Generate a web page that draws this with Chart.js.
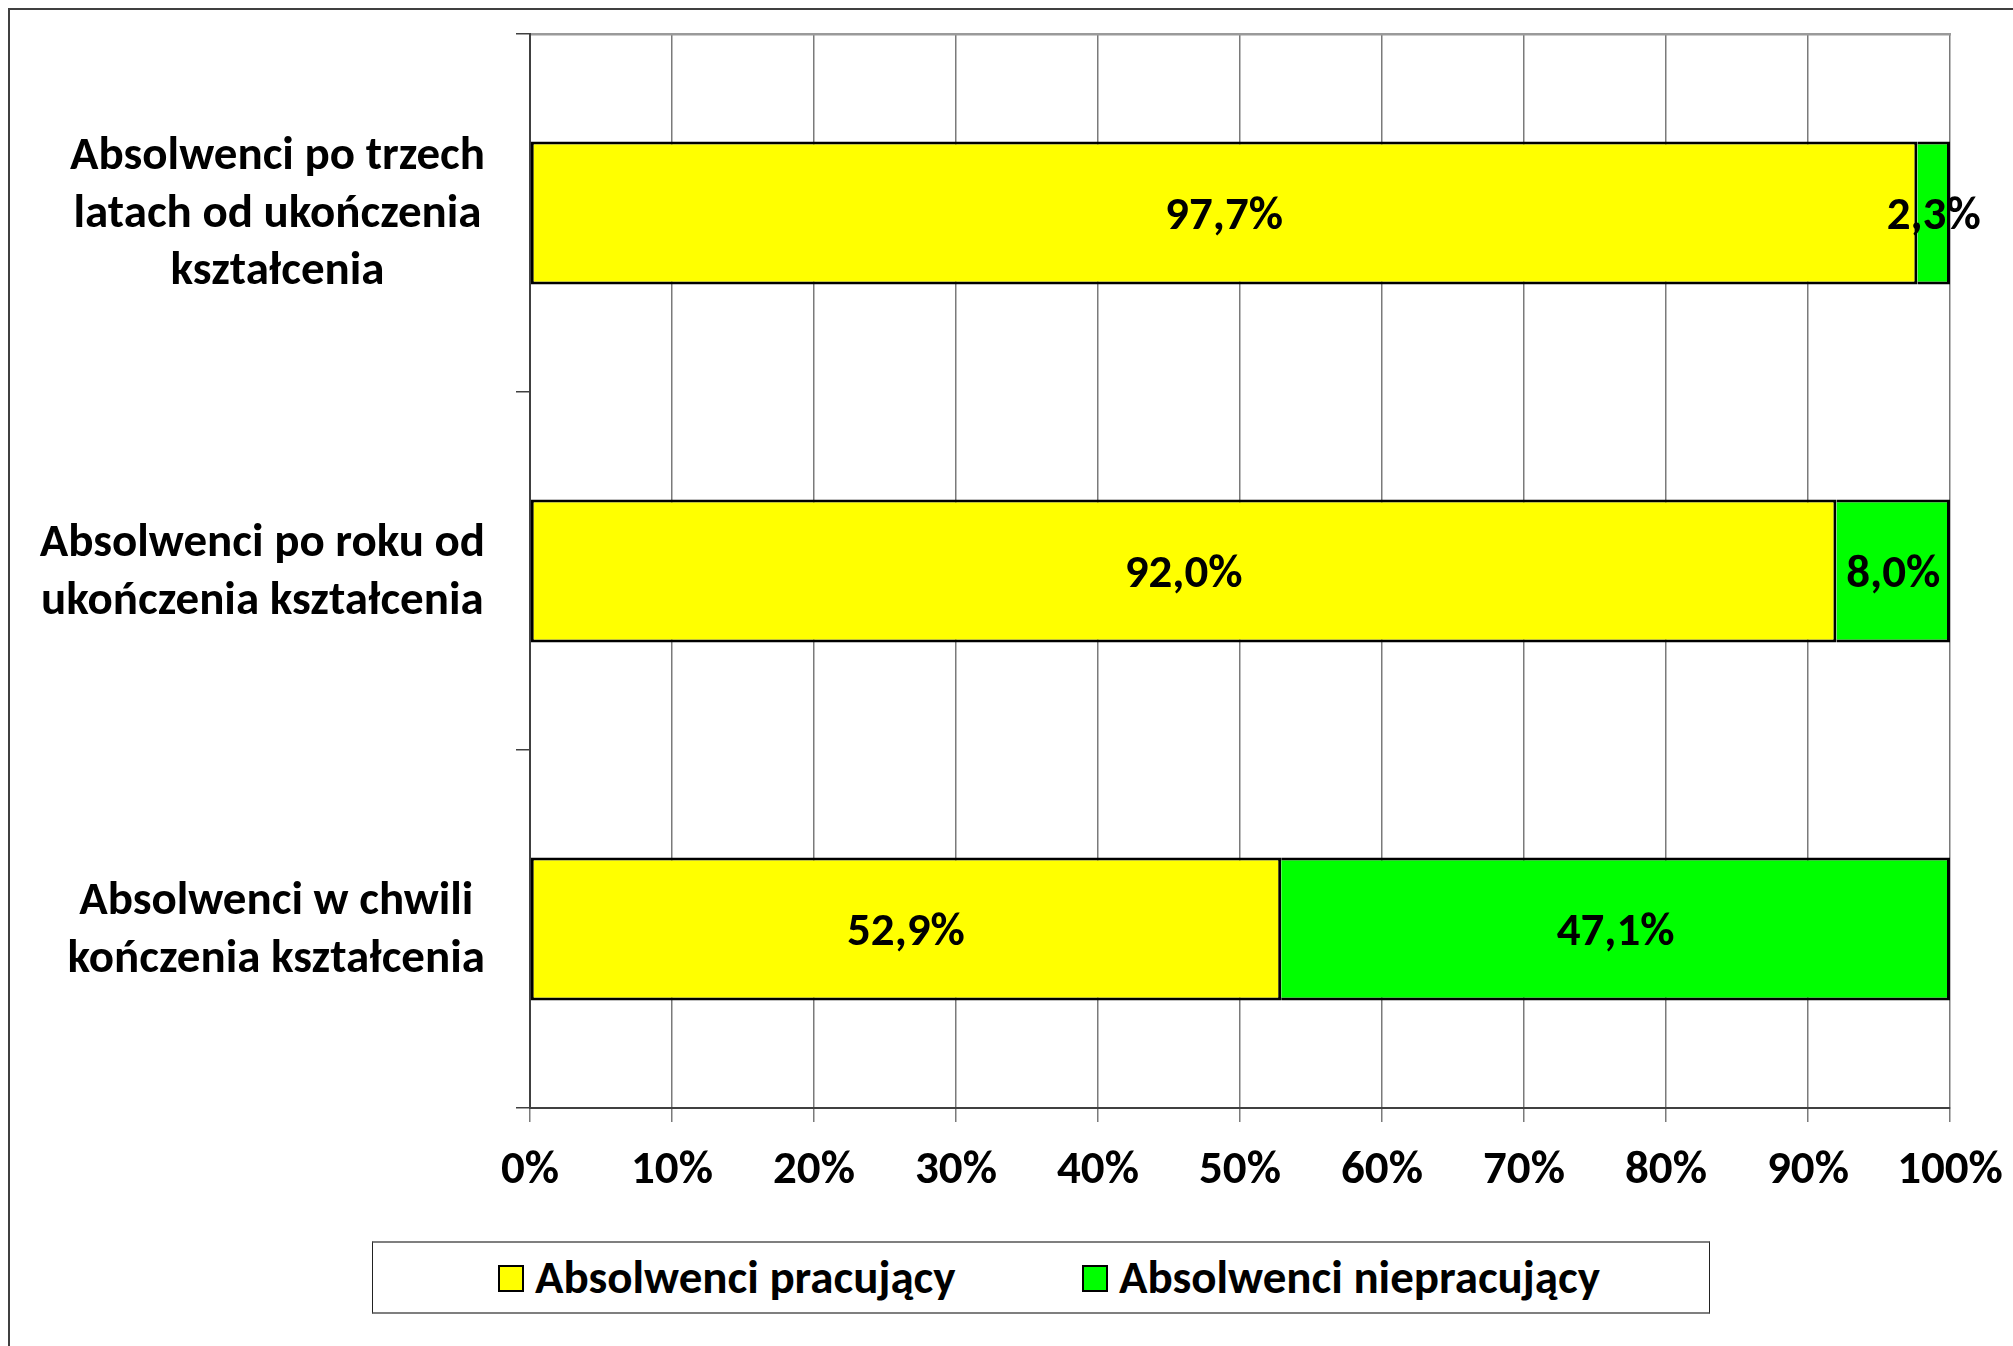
<!DOCTYPE html>
<html>
<head>
<meta charset="utf-8">
<script src="https://cdn.jsdelivr.net/npm/chart.js@4.4.1/dist/chart.umd.min.js"></script>
<style>
  html, body { margin: 0; padding: 0; background: #fff; }
  #wrap { position: relative; width: 2013px; height: 1346px; overflow: hidden; }
  #frame { position: absolute; left: 8px; top: 8px; width: 2100px; height: 1400px; border: 2px solid #404040; box-sizing: border-box; }
  canvas { position: absolute; left: 0; top: 0; }
  #legend { position: absolute; left: 372px; top: 1241px; width: 1338px; height: 73px; box-sizing: border-box;
            border: 2px solid #7f7f7f; border-left: 1px solid #222; border-right: 1px solid #222; background: #fff; }
  .lg-box { position: absolute; width: 22px; height: 23px; border: 2px solid #000; top: 22px; }
  .lg-text { position: absolute; top: 0; line-height: 69px; font-weight: bold; font-size: 47px; color: #000; white-space: nowrap; }
</style>
</head>
<body>
<div id="wrap">
  <div id="frame"></div>
  <canvas id="c" width="2013" height="1346"></canvas>
  <div id="legend"></div>
</div>
<script>
const categories = [
  ["Absolwenci po trzech", "latach od ukończenia", "kształcenia"],
  ["Absolwenci po roku od", "ukończenia kształcenia"],
  ["Absolwenci w chwili", "kończenia kształcenia"]
];
const seriesNames = ["Absolwenci pracujący", "Absolwenci niepracujący"];
const working = [97.7, 92.0, 52.9];
const notWorking = [2.3, 8.0, 47.1];
const xTickValues = [0, 10, 20, 30, 40, 50, 60, 70, 80, 90, 100];
const seriesColors = ["#FFFF00", "#00FF00"];

const FONT = 'Carlito, "Open Sans", sans-serif';

const pctLabel = v => v.toFixed(1).replace('.', ',') + '%';

const barLabels = {
  id: 'barLabels',
  afterDatasetsDraw(chart) {
    const ctx = chart.ctx;
    ctx.save();
    ctx.font = 'bold 47px ' + FONT;
    ctx.fillStyle = '#000';
    ctx.textAlign = 'center';
    ctx.textBaseline = 'middle';
    chart.data.datasets.forEach((ds, di) => {
      const meta = chart.getDatasetMeta(di);
      meta.data.forEach((bar, i) => {
        const p = bar.getProps(['x', 'y', 'base'], true);
        ctx.fillText(pctLabel(ds.data[i]), (p.x + p.base) / 2, p.y + 4);
      });
    });
    ctx.restore();
  }
};

const catLabels = {
  id: 'catLabels',
  afterDraw(chart) {
    const ctx = chart.ctx;
    const yScale = chart.scales.y;
    const right = chart.chartArea.left - 45;
    const lh = 57.5;
    ctx.save();
    ctx.font = 'bold 47px ' + FONT;
    ctx.fillStyle = '#000';
    ctx.textAlign = 'center';
    ctx.textBaseline = 'middle';
    chart.data.labels.forEach((lines, i) => {
      const yc = yScale.getPixelForValue(i);
      const w = Math.max(...lines.map(l => ctx.measureText(l).width));
      const cx = right - w / 2;
      lines.forEach((l, j) => {
        ctx.fillText(l, cx, yc + (j - (lines.length - 1) / 2) * lh + 2);
      });
    });
    ctx.restore();
  }
};

new Chart(document.getElementById('c'), {
  type: 'bar',
  data: {
    labels: categories,
    datasets: [
      { label: seriesNames[0], data: working, backgroundColor: seriesColors[0], borderColor: '#000', borderWidth: 3, borderSkipped: false,
        categoryPercentage: 1, barPercentage: 0.4 },
      { label: seriesNames[1], data: notWorking, backgroundColor: seriesColors[1], borderColor: '#000', borderWidth: 3, borderSkipped: 'start',
        categoryPercentage: 1, barPercentage: 0.4 }
    ]
  },
  options: {
    indexAxis: 'y',
    responsive: false,
    animation: false,
    devicePixelRatio: 1,
    layout: { padding: { top: 34, right: 63, left: 0, bottom: 0 } },
    plugins: { legend: { display: false }, tooltip: { enabled: false } },
    scales: {
      x: {
        type: 'linear', stacked: true, min: 0, max: 100, position: 'bottom',
        afterBuildTicks(scale) { scale.ticks = xTickValues.map(v => ({ value: v })); },
        ticks: { callback: v => v + '%', color: '#000', font: { family: FONT, size: 47, weight: 'bold' }, padding: 21, maxRotation: 0, autoSkip: false },
        grid: { color: '#7a7a7a', lineWidth: 1.5, tickLength: 14, drawTicks: true },
        border: { display: true, color: '#404040', width: 2 },
        afterFit(scale) { scale.height = 238; scale.paddingLeft = 0; scale.paddingRight = 0; }
      },
      xTop: {
        type: 'linear', min: 0, max: 100, position: 'top',
        ticks: { display: false },
        grid: { display: false, drawTicks: false },
        border: { display: true, color: '#9a9a9a', width: 2.5 },
        afterFit(scale) { scale.height = 0; scale.paddingLeft = 0; scale.paddingRight = 0; }
      },
      y: {
        type: 'category', stacked: true, offset: true,
        ticks: { display: false },
        grid: { offset: true, drawOnChartArea: false, drawTicks: true, tickLength: 14, color: '#404040', lineWidth: 1.5 },
        border: { display: true, color: '#404040', width: 2 },
        afterFit(scale) { scale.width = 530; scale.paddingTop = 0; scale.paddingBottom = 0; }
      }
    }
  },
  plugins: [barLabels, catLabels]
});

// legend (HTML) built from series arrays
const legend = document.getElementById('legend');
const boxLeft = [125, 709];
const textLeft = [162, 746];
seriesNames.forEach((name, i) => {
  const b = document.createElement('div');
  b.className = 'lg-box';
  b.style.left = boxLeft[i] + 'px';
  b.style.background = seriesColors[i];
  legend.appendChild(b);
  const t = document.createElement('div');
  t.className = 'lg-text';
  t.style.left = textLeft[i] + 'px';
  t.style.fontFamily = FONT;
  t.textContent = name;
  legend.appendChild(t);
});
</script>
</body>
</html>
